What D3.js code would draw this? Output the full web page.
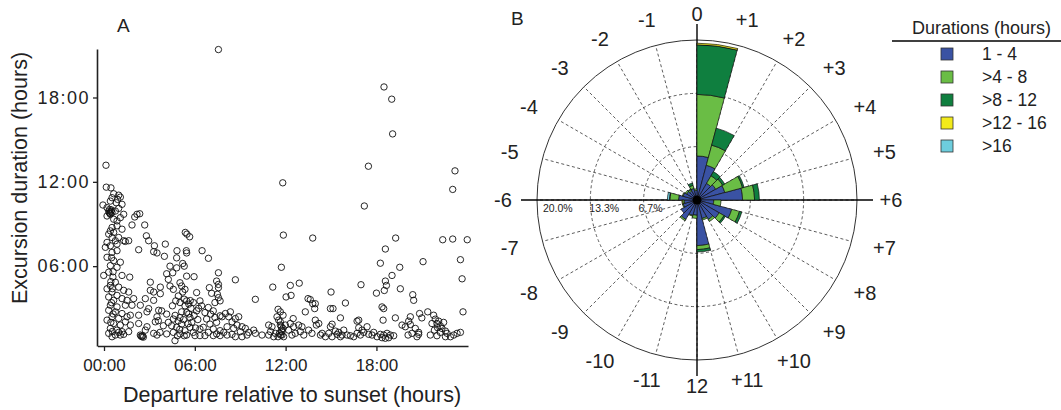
<!DOCTYPE html>
<html>
<head>
<meta charset="utf-8">
<script src="https://cdn.jsdelivr.net/npm/d3@7"></script>
<style>
  body { margin: 0; background: #fff; }
  text { font-family: "Liberation Sans", Arial, sans-serif; fill: #222; }
</style>
</head>
<body>
<svg id="chart" width="1061" height="410"></svg>
<script>
// ---- panel A data: [hours after sunset, excursion duration in hours] ----
const excursions = [
  // upper left column
  [0.13,13.18],[0.15,11.62],[0.46,11.57],[-0.07,10.35],[0.64,11.15],[0.97,11.05],[1.08,10.91],[0.9,10.75],
  [0.53,10.87],[0.42,10.63],[0.81,10.51],[1.19,10.4],[0.2,10.16],[0.31,9.92],[0.42,9.69],[0.2,9.57],
  [0.53,9.81],[0.37,10.04],[0.75,9.92],[0.97,10.11],[1.3,9.69],[1.08,9.45],[0.86,9.22],[0.64,9.34],
  [0.45,9.9],[0.4,9.75],[0.5,10.0],[0.35,9.8],[0.53,8.75],[0.42,8.51],[0.64,8.4],[0.31,8.28],[0.53,8.04],
  [0.86,8.87],[1.19,8.63],[0.97,8.04],[0.75,7.81],[0.2,7.69],[0.42,7.45],[0.09,7.34],[0.86,7.57],
  [1.3,7.81],[1.41,7.76],[1.63,7.81],[2.18,9.69],[2.36,9.73],[2.03,9.5],[1.85,8.93],[2.69,8.93],
  [2.8,8.16],[2.95,7.81],[3.33,7.45],[4.05,7.57],[5.37,8.4],[5.48,8.28],[5.66,8.09],[5.44,7.1],
  [6.48,7.1],[4.82,7.1],
  // lower left column
  [0.53,6.98],[0.86,7.1],[0.2,6.63],[0.64,6.39],[1.08,6.28],[0.42,6.04],[0.86,5.92],[0.31,5.57],
  [-0.02,5.34],[0.59,5.22],[1.19,5.34],[1.7,5.22],[0.75,4.86],[0.42,4.63],[0.97,4.51],[0.2,4.39],
  [0.53,4.16],[1.3,4.28],[1.63,4.16],[0.86,3.92],[0.31,3.81],[0.64,3.57],[1.19,3.69],[1.52,3.57],
  [0.42,3.22],[0.86,3.1],[1.41,3.22],[0.31,2.86],[0.75,2.75],[1.19,2.63],[0.53,2.4],[0.97,2.28],
  [1.52,2.4],[0.2,2.16],[0.64,1.92],[1.08,1.81],[1.41,2.04],[0.42,1.57],[0.86,1.45],[1.19,1.34],
  [0.31,1.22],[0.75,1.1],[1.08,1.1],[0.53,0.98],[1.3,1.15],[0.97,1.29],
  [0.5,6.6],[0.6,5.6],[0.45,4.9],[0.55,4.4],[0.5,3.4],[0.6,2.6],[0.45,2.0],[0.55,1.35],
  // 2 - 4 h
  [2.29,7.17],[3.28,7.03],[3.5,6.94],[3.06,4.86],[3.72,4.51],[3.06,4.28],[3.28,4.16],[3.72,4.04],
  [1.96,3.69],[2.73,3.69],[3.28,3.57],[1.85,3.22],[2.4,3.22],[2.95,2.98],[3.61,2.86],[1.74,2.51],
  [2.29,2.51],[2.84,2.75],[3.5,2.4],[1.74,1.81],[2.29,1.92],[2.84,1.69],[3.39,2.04],[1.63,1.34],
  [2.73,1.45],[3.28,1.22],[2.4,1.1],[2.51,0.98],[3.5,1.1],[2.45,1.02],[2.55,1.05],[2.6,0.95],
  [3.92,1.76],[4.14,2.59],[3.81,2.82],[3.59,2.12],[3.7,1.29],
  // 4 - 8 h
  [3.99,6.7],[4.14,5.46],[4.36,6.0],[4.25,5.06],[4.54,5.53],[4.8,6.59],[4.8,5.88],[5.02,4.82],
  [5.2,6.19],[5.3,6.0],[5.46,6.94],[5.46,5.29],[5.13,4.59],[5.35,4.35],[4.36,4.59],[4.58,4.35],
  [5.2,4.16],[4.91,3.88],[4.74,3.53],[4.52,3.18],[5.02,3.41],[5.46,3.53],[5.9,3.41],[5.35,3.18],
  [5.13,2.75],[5.46,2.7],[5.68,2.35],[5.02,2.35],[4.58,2.24],[4.25,2.0],[4.47,1.76],[4.8,1.65],
  [5.13,1.88],[5.35,1.41],[5.68,1.65],[4.58,1.29],[5.02,1.18],[5.46,1.1],[5.9,1.29],[4.69,0.7],
  [4.14,1.18],[4.9,2.1],[5.25,2.2],[4.7,2.5],[5.55,1.9],[5.0,1.5],[5.3,1.05],[4.85,1.05],
  [5.6,2.6],[5.8,2.0],[5.95,2.5],[6.2,2.2],[6.05,1.6],[5.75,3.0],[6.25,3.0],[5.6,3.3],[5.3,3.65],
  [5.7,3.55],[5.95,5.25],[6.9,6.56],[6.12,4.12],[6.34,3.53],[6.45,3.18],[6.12,2.82],[6.67,2.7],
  [6.89,3.06],[7.05,2.59],[7.22,2.82],[6.78,2.24],[7.33,2.35],[7.0,1.88],[6.56,1.65],[6.34,1.53],
  [6.89,1.29],[7.44,1.18],[7.67,1.41],[7.22,1.53],[7.44,2.0],[7.67,2.47],[7.56,3.76],[7.49,4.0],
  [7.56,4.47],[7.56,4.7],[7.44,4.94],[7.56,5.53],[6.96,4.47],[7.11,4.07],[7.33,3.41],[7.67,3.53],
  [6.34,1.06],[6.01,1.06],[6.67,1.06],[7.22,1.06],[7.67,1.06],
  // 8 - 16 h
  [11.72,5.92],[8.68,5.03],[11.15,4.51],[12.31,4.63],[12.9,4.79],[12.03,3.81],[12.36,3.92],[10.0,3.64],
  [13.48,3.69],[13.63,3.62],[13.79,3.33],[13.96,3.33],[13.92,2.98],[15.0,4.16],[14.96,2.98],[15.13,2.98],
  [15.95,3.38],[15.62,2.32],[11.5,2.93],[11.65,2.75],[11.83,2.51],[11.43,2.4],[13.3,2.75],[12.5,2.27],
  [13.96,2.16],[14.19,1.92],[14.03,1.81],[15.07,1.87],[14.96,1.69],[15.29,1.38],[14.85,1.22],[14.41,1.22],
  [14.63,0.98],[14.3,1.1],[15.4,1.15],[15.73,1.1],[15.84,1.45],[7.8,2.4],[8.02,2.63],[8.35,2.75],
  [8.24,2.4],[8.46,2.04],[8.68,2.27],[8.9,2.4],[8.79,1.81],[8.13,1.69],[8.57,1.57],[9.12,1.69],
  [9.34,1.57],[9.01,1.34],[9.56,1.29],[9.45,1.1],[10.0,1.22],[10.44,1.1],[9.89,1.45],[10.88,1.81],
  [11.1,1.69],[11.0,1.34],[11.32,1.22],[11.54,2.16],[11.65,1.81],[11.72,1.45],[11.76,1.1],[11.5,0.98],
  [11.87,0.98],[11.98,1.81],[12.2,1.45],[12.42,1.1],[12.64,1.22],[12.97,1.34],[13.08,1.69],[12.86,1.81],
  [13.2,1.1],[13.52,1.45],[13.74,1.22],[12.53,1.69],[12.31,1.92],[10.88,1.1],[11.21,0.98],[11.65,2.04],
  [11.72,1.69],[11.76,1.34],[11.59,1.22],[11.83,1.57],[11.67,1.1],[7.91,1.29],[8.13,1.1],[8.46,1.15],
  [9.12,0.98],[8.68,0.98],[15.51,1.29],[15.62,0.98],[15.07,0.98],
  // 16 - 24 h
  [18.59,7.22],[18.26,6.21],[21.08,6.32],[23.55,6.46],[19.54,5.92],[19.03,5.34],[18.59,4.94],[18.66,4.63],
  [18.52,4.27],[16.98,4.68],[18.0,4.08],[19.58,4.39],[20.4,3.97],[20.46,3.57],[23.66,5.1],[23.72,2.75],
  [18.37,3.1],[18.48,2.98],[16.72,2.09],[16.83,2.16],[18.44,2.16],[19.25,2.32],[20.24,2.4],[20.13,2.09],
  [20.85,2.63],[21.0,2.32],[21.39,2.75],[21.78,2.51],[21.89,2.23],[22.0,1.92],[22.11,2.09],[22.22,1.76],
  [22.33,1.57],[22.04,1.62],[22.44,2.0],[21.67,1.92],[21.83,1.45],[22.22,1.29],[22.56,1.38],[19.69,1.81],
  [19.91,1.69],[20.24,1.85],[20.57,1.57],[20.35,1.22],[20.79,1.29],[16.06,1.1],[16.28,1.05],[16.5,0.98],
  [16.72,1.22],[16.94,1.1],[17.16,1.29],[17.38,1.69],[17.49,1.15],[17.71,1.1],[18.04,0.98],[18.26,1.15],
  [18.48,1.1],[18.7,1.22],[18.92,1.1],[18.81,0.91],[19.14,1.05],[18.37,0.91],[18.59,0.87],[20.09,1.1],
  [20.68,0.98],[20.79,1.15],[21.56,1.1],[22.0,1.05],[22.67,1.22],[22.89,0.98],[23.11,1.1],[23.33,1.22],
  [23.55,1.29],[22.56,0.98],[17.82,1.29],[17.05,1.45],[16.83,1.62],
  // long excursions
  [7.56,21.41],[18.5,18.75],[19.01,17.88],[19.07,15.41],[17.47,13.11],[17.2,10.28],[23.19,12.78],
  [23.04,11.46],[11.81,11.93],[11.85,8.21],[13.79,8.0],[19.27,8.0],[22.38,7.88],[23.04,7.93],[24.0,7.88]
];
const xTicks = [0, 6, 12, 18];
const yTicks = [6, 12, 18];

// ---- panel B data: % of excursions per departure hour, by duration class ----
const sectorLabels = ["0","+1","+2","+3","+4","+5","+6","+7","+8","+9","+10","+11",
                      "12","-11","-10","-9","-8","-7","-6","-5","-4","-3","-2","-1"];
const durationClasses = ["1 - 4", ">4 - 8", ">8 - 12", ">12 - 16", ">16"];
const classColours = ["#3a52a3", "#6abd45", "#0f7f3f", "#f2ea1b", "#6dcddd"];
const dur1to4   = [5.5,4.5,2.4,2.7,3.6,5.7,2.1,4.5,3.2,2.8,2.4,5.7,1.9,2.0,2.8,2.3,1.8,1.6,2.3,1.8,1.5,1.3,1.5,1.2];
const dur4to8   = [7.7,2.6,1.1,1.0,2.3,1.5,0.9,1.0,0.7,0.3,0.2,0.5,0.4,0.1,0.2,0,0.1,0.2,1.1,0.1,0.2,0.2,0.4,0.2];
const dur8to12  = [6.2,2.2,0.6,0.3,0.2,0.6,0,0.3,0.2,0,0,0.3,0,0,0,0,0,0,0.05,0,0,0.1,0.3,0];
const dur12to16 = [0.2,0,0,0,0,0,0,0,0,0,0,0,0,0,0,0,0,0.1,0,0,0,0,0,0];
const dur16plus = [0,0,0,0,0,0,0,0,0,0,0,0,0,0,0,0,0,0,0.25,0,0,0,0,0];
const ringValues = [6.67, 13.33, 20];
const ringLabels = ["6.7%", "13.3%", "20.0%"];

const svg = d3.select("#chart");
const fmtHour = h => d3.format("02")(h) + ":00";

// ================= Panel A =================
const x = d3.scaleLinear().domain([-0.43, 24.05]).range([97.5, 468]);
const y = d3.scaleLinear().domain([0.32, 21.45]).range([346, 49]);

svg.append("text").attr("x", 117).attr("y", 32).style("font-size", "19px").text("A");

const gA = svg.append("g");
gA.selectAll("circle.pt")
  .data(excursions)
  .enter().append("circle")
  .attr("class", "pt")
  .attr("cx", d => x(d[0]))
  .attr("cy", d => y(d[1]))
  .attr("r", 3.2)
  .attr("fill", "none")
  .attr("stroke", "#111")
  .attr("stroke-width", 0.9);

const xAxis = gA.append("g")
  .attr("transform", "translate(0,346)")
  .call(d3.axisBottom(x).tickValues(xTicks).tickFormat(fmtHour).tickSize(5).tickSizeOuter(0).tickPadding(8));
const yAxis = gA.append("g")
  .attr("transform", "translate(97,0)")
  .call(d3.axisLeft(y).tickValues(yTicks).tickFormat(fmtHour).tickSize(4).tickSizeOuter(0).tickPadding(3));
[xAxis, yAxis].forEach(a => {
  a.select(".domain").attr("stroke", "#222").attr("stroke-width", 1.6);
  a.selectAll(".tick line").attr("stroke", "#222").attr("stroke-width", 1.3);
  a.selectAll(".tick text").style("font-size", "17px").attr("fill", "#222")
    .style("font-family", "'Liberation Sans', Arial, sans-serif");
});
yAxis.selectAll(".tick text").style("font-size", "18px").style("letter-spacing", "1.5px");

svg.append("text")
  .attr("x", 292).attr("y", 402)
  .attr("text-anchor", "middle")
  .style("font-size", "21.5px")
  .text("Departure relative to sunset (hours)");
svg.append("text")
  .attr("transform", "translate(27,178) rotate(-90)")
  .attr("text-anchor", "middle")
  .style("font-size", "21.5px")
  .text("Excursion duration (hours)");

// ================= Panel B =================
const cx = 697, cy = 200;
const r = d3.scaleLinear().domain([0, 20]).range([0, 160]);
const ang = d3.scaleLinear().domain([0, 24]).range([0, 2 * Math.PI]);

svg.append("text").attr("x", 511).attr("y", 25).style("font-size", "19px").text("B");

const gB = svg.append("g").attr("transform", `translate(${cx},${cy})`);

// radial dashed spokes
gB.selectAll("line.spoke")
  .data(d3.range(24))
  .enter().append("line")
  .attr("class", "spoke")
  .attr("x1", 0).attr("y1", 0)
  .attr("x2", i => r(20) * Math.sin(ang(i)))
  .attr("y2", i => -r(20) * Math.cos(ang(i)))
  .attr("stroke", "#333").attr("stroke-width", 0.8).attr("stroke-dasharray", "3,2.5");

// rings
gB.selectAll("circle.ring")
  .data(ringValues)
  .enter().append("circle")
  .attr("class", "ring")
  .attr("r", d => r(d))
  .attr("fill", "none")
  .attr("stroke", "#333")
  .attr("stroke-width", (d, i) => i === ringValues.length - 1 ? 1 : 0.8)
  .attr("stroke-dasharray", (d, i) => i === ringValues.length - 1 ? null : "3,2.5");

// cross axes (solid, over the dashed spokes)
const axLen = r(22);
gB.append("line").attr("x1", -axLen).attr("x2", axLen).attr("y1", 0).attr("y2", 0)
  .attr("stroke", "#000").attr("stroke-width", 1.4);
gB.append("line").attr("x1", 0).attr("x2", 0).attr("y1", -axLen).attr("y2", axLen)
  .attr("stroke", "#000").attr("stroke-width", 1.4);

// stacked sectors
const rows = sectorLabels.map((s, i) => ({
  sector: i, c0: dur1to4[i], c1: dur4to8[i], c2: dur8to12[i], c3: dur12to16[i], c4: dur16plus[i]
}));
const keys = ["c0", "c1", "c2", "c3", "c4"];
const stacked = d3.stack().keys(keys)(rows);
const arc = d3.arc()
  .innerRadius(d => r(d[0]))
  .outerRadius(d => r(d[1]))
  .startAngle(d => ang(d.data.sector))
  .endAngle(d => ang(d.data.sector + 1));

gB.selectAll("g.layer")
  .data(stacked)
  .enter().append("g")
  .attr("class", "layer")
  .attr("fill", (d, i) => classColours[i])
  .selectAll("path")
  .data(d => d.filter(s => s[1] - s[0] > 0))
  .enter().append("path")
  .attr("d", arc)
  .attr("stroke", "#111")
  .attr("stroke-width", 0.7)
  .attr("stroke-linejoin", "round");

// centre blob
gB.append("circle").attr("r", 4.5).attr("fill", "#000");

// ring percentage labels
gB.selectAll("text.pct")
  .data(ringValues)
  .enter().append("text")
  .attr("class", "pct")
  .attr("x", d => -r(d) * 0.87)
  .attr("y", 12)
  .attr("text-anchor", "middle")
  .style("font-size", "10.5px")
  .attr("fill", "#444")
  .text((d, i) => ringLabels[i]);

// hour labels around the rose
gB.selectAll("text.hour")
  .data(sectorLabels)
  .enter().append("text")
  .attr("class", "hour")
  .attr("x", (d, i) => 194 * Math.sin(ang(i)))
  .attr("y", (d, i) => -186 * Math.cos(ang(i)))
  .attr("text-anchor", "middle")
  .attr("dominant-baseline", "central")
  .style("font-size", "20px")
  .text(d => d);

// ================= Legend =================
const lg = svg.append("g");
lg.append("text").attr("x", 912).attr("y", 34).style("font-size", "18px").text("Durations (hours)");
lg.append("line").attr("x1", 892).attr("x2", 1061).attr("y1", 41).attr("y2", 41)
  .attr("stroke", "#000").attr("stroke-width", 1.5);
const item = lg.selectAll("g.item")
  .data(durationClasses)
  .enter().append("g")
  .attr("class", "item")
  .attr("transform", (d, i) => `translate(941,${54 + i * 23})`);
item.append("rect")
  .attr("x", 0).attr("y", -6).attr("width", 12).attr("height", 12)
  .attr("fill", (d, i) => classColours[i])
  .attr("stroke", "#333").attr("stroke-width", 0.8);
item.append("text")
  .attr("x", 41).attr("y", 6)
  .style("font-size", "17.5px")
  .text(d => d);
</script>
</body>
</html>
